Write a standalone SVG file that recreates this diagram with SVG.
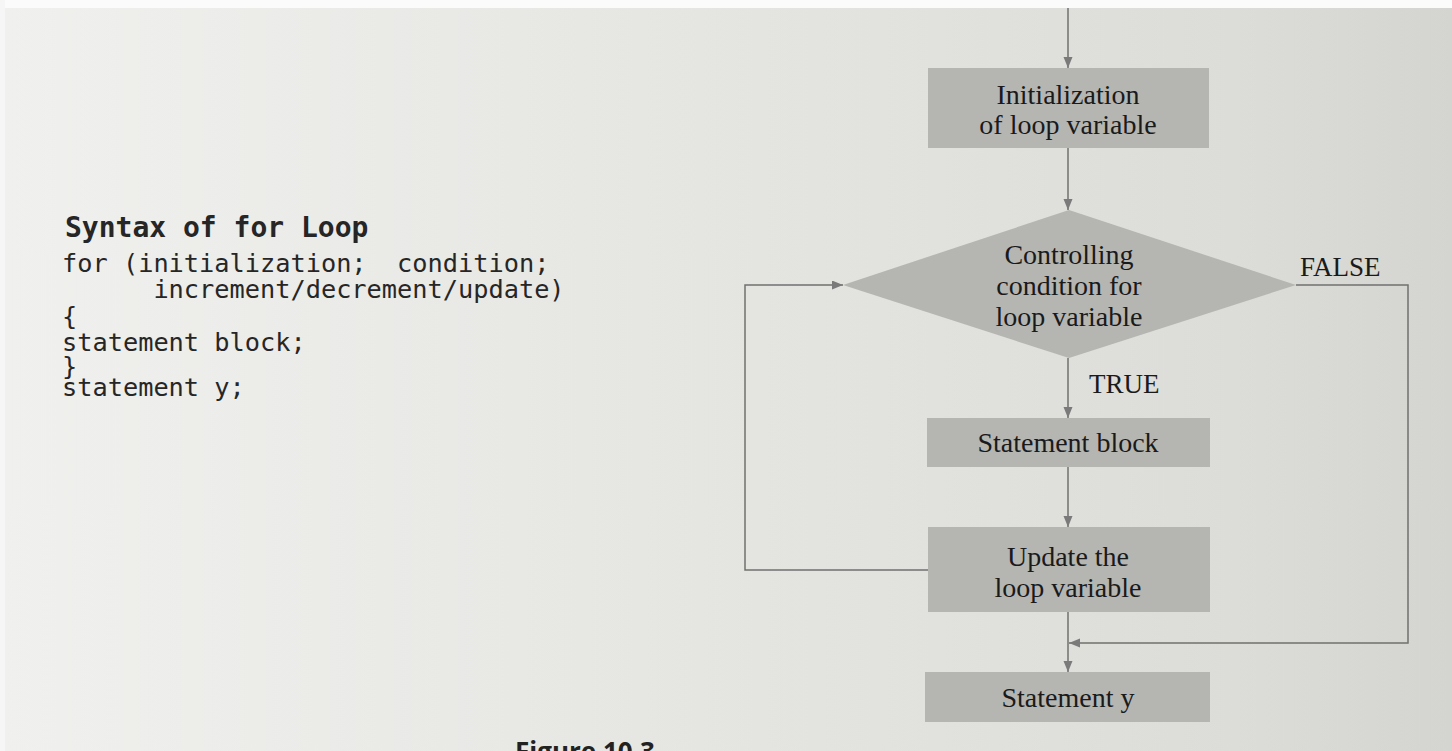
<svg xmlns="http://www.w3.org/2000/svg" width="1452" height="751" viewBox="0 0 1452 751">
  <defs>
    <linearGradient id="paper" x1="0" y1="0" x2="1" y2="0">
      <stop offset="0" stop-color="#f0f0ee"/>
      <stop offset="0.4" stop-color="#e7e7e4"/>
      <stop offset="0.85" stop-color="#dcdcd8"/>
      <stop offset="1" stop-color="#d4d4d0"/>
    </linearGradient>
    <marker id="arr" markerUnits="userSpaceOnUse" markerWidth="12" markerHeight="10" refX="11" refY="4.5" orient="auto">
      <path d="M0,0 L11,4.5 L0,9 z" fill="#7a7a7a"/>
    </marker>
    <style>
      .box { fill: #b5b5b2; }
      .lbl { font-family: "Liberation Serif", "Times New Roman", serif; font-size: 28px; fill: #1a1a1a; text-anchor: middle; }
      .tag { font-family: "Liberation Serif", "Times New Roman", serif; font-size: 27px; fill: #1a1a1a; }
      .code { font-family: "DejaVu Sans Mono", "Liberation Mono", monospace; font-size: 25.3px; fill: #262626; }
      .head { font-weight: bold; font-size: 28px; }
      .conn { fill: none; stroke: #707070; stroke-width: 1.5; }
      .cap { font-family: "Open Sans", "Liberation Sans", sans-serif; font-weight: bold; font-size: 26px; fill: #222; }
    </style>
  </defs>

  <rect x="0" y="0" width="1452" height="751" fill="url(#paper)"/>
  <rect x="0" y="0" width="1452" height="8" fill="#fbfbfb"/>
  <rect x="0" y="0" width="5" height="751" fill="#f6f6f6"/>

  <g id="code">
    <text class="code head" x="65" y="237">Syntax of for Loop</text>
    <text class="code" x="62" y="272">for (initialization;&#160;&#160;condition;</text>
    <text class="code" x="62" y="298">&#160;&#160;&#160;&#160;&#160;&#160;increment/decrement/update)</text>
    <text class="code" x="62" y="325">{</text>
    <text class="code" x="62" y="351">statement block;</text>
    <text class="code" x="62" y="375">}</text>
    <text class="code" x="62" y="396">statement y;</text>
  </g>

  <g id="connectors">
    <path class="conn" d="M1068,8 V68" marker-end="url(#arr)"/>
    <path class="conn" d="M1068,148 V210" marker-end="url(#arr)"/>
    <path class="conn" d="M1068,358 V418" marker-end="url(#arr)"/>
    <path class="conn" d="M1068,467 V527" marker-end="url(#arr)"/>
    <path class="conn" d="M1068,612 V672" marker-end="url(#arr)"/>
    <path class="conn" d="M1296,285 H1408 V643 H1069" marker-end="url(#arr)"/>
    <path class="conn" d="M928,570 H745 V285 H843" marker-end="url(#arr)"/>
  </g>

  <g id="init">
    <rect class="box" x="928" y="68" width="281" height="80"/>
    <text class="lbl" x="1068" y="104">Initialization</text>
    <text class="lbl" x="1068" y="134">of loop variable</text>
  </g>

  <g id="condition">
    <polygon class="box" points="1069,210 1296,285 1069,358 843,285"/>
    <text class="lbl" x="1069" y="264">Controlling</text>
    <text class="lbl" x="1069" y="295">condition for</text>
    <text class="lbl" x="1069" y="326">loop variable</text>
  </g>

  <text class="tag" id="false-label" x="1300" y="276">FALSE</text>
  <text class="tag" id="true-label" x="1089" y="393">TRUE</text>

  <g id="block">
    <rect class="box" x="927" y="418" width="283" height="49"/>
    <text class="lbl" x="1068" y="452">Statement block</text>
  </g>

  <g id="update">
    <rect class="box" x="928" y="527" width="282" height="85"/>
    <text class="lbl" x="1068" y="566">Update the</text>
    <text class="lbl" x="1068" y="597">loop variable</text>
  </g>

  <g id="stmty">
    <rect class="box" x="925" y="672" width="285" height="50"/>
    <text class="lbl" x="1068" y="707">Statement y</text>
  </g>

  <text class="cap" x="515" y="761">Figure 10.3</text>
</svg>
